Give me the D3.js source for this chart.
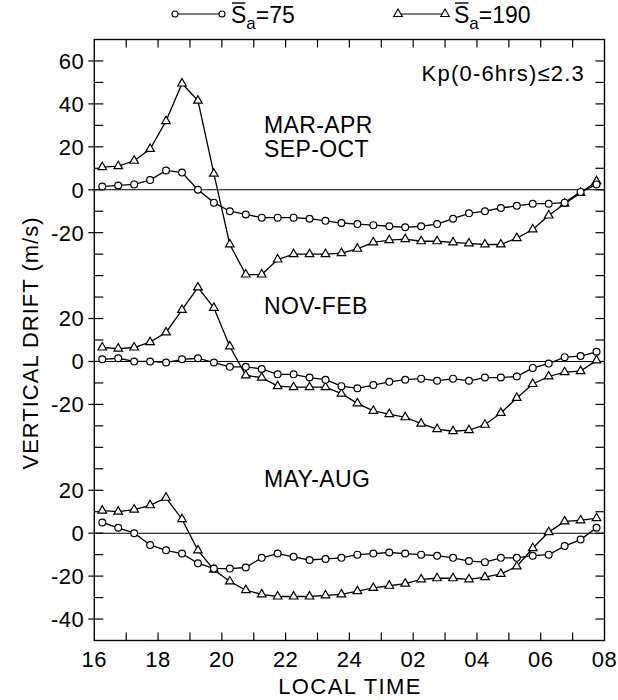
<!DOCTYPE html>
<html>
<head>
<meta charset="utf-8">
<script src="https://cdn.jsdelivr.net/npm/d3@7"></script>
<style>
  body { margin: 0; background: #fff; }
  svg { display: block; }
  text { font-family: "Liberation Sans", Arial, Helvetica, sans-serif; fill: #000; }
</style>
</head>
<body>
<div id="chart"></div>
<script>
// local time of each point (hours, 24 = midnight, 32 = 08 next morning)
var hours = [16.25, 16.75, 17.25, 17.75, 18.25, 18.75, 19.25, 19.75,
             20.25, 20.75, 21.25, 21.75, 22.25, 22.75, 23.25, 23.75,
             24.25, 24.75, 25.25, 25.75, 26.25, 26.75, 27.25, 27.75,
             28.25, 28.75, 29.25, 29.75, 30.25, 30.75, 31.25, 31.75];

// vertical drift, m/s
var marAprLow  = [1.5, 2, 2.5, 4.5, 9, 8, 0, -6, -10, -11.5, -13, -13, -13, -13.5, -14.5, -15.5,
                  -16, -16.5, -17, -17.5, -17, -16, -13.5, -11, -10, -8.5, -7.5, -6.5, -6.5, -6, -1, 2.5];
var marAprHigh = [10.5, 11, 13.5, 19, 32, 49.5, 41.5, 7.5, -25.5, -39.5, -39.5, -32.5, -30, -30, -30, -29.5,
                  -27.5, -24.5, -23.5, -23, -24, -24, -24.5, -25, -25.5, -25.5, -22.5, -18.5, -12, -6.5, -1.5, 4];
var novFebLow  = [1, 1.5, 0, 0, -0.5, 1, 1.5, -0.5, -2.5, -2.5, -3.5, -6, -6, -7.5, -8.5, -11.5,
                  -12.5, -11, -9.5, -8.5, -8, -9, -8, -9, -7.5, -7.5, -7, -3, -1, 2, 2.5, 4.5];
var novFebHigh = [6.5, 6, 6.5, 9, 13.5, 24, 34.5, 25, 7, -6.5, -7.5, -11.5, -12, -12, -12, -15,
                  -19.5, -23, -24.5, -26, -29, -31.5, -32.5, -32, -29.5, -24, -17, -10.5, -7, -5, -4.5, 0.5];
var mayAugLow  = [5, 2.5, 0, -5.5, -8, -9.5, -14, -16.5, -16.5, -16, -11.5, -9.5, -11, -12.5, -12, -11.5,
                  -10, -9.5, -9, -9.5, -10, -10.5, -11.5, -13, -13.5, -11.5, -11.5, -10.5, -10, -6, -3, 2.5];
var mayAugHigh = [10.5, 10, 11, 13, 16.5, 6.5, -8, -17, -22.5, -26.5, -28.5, -29.5, -29.5, -29.5, -29, -28.5,
                  -27, -25.5, -24.5, -23.5, -21.5, -21, -21, -21.5, -20.5, -19, -15.5, -7, 0.5, 5.5, 6, 7];

var seasons = ["MAR-APR\nSEP-OCT", "NOV-FEB", "MAY-AUG"];
var xTickLabels = ["16", "18", "20", "22", "24", "02", "04", "06", "08"];
var panelTicks = [[60, 40, 20, 0, -20], [20, 0, -20], [20, 0, -20, -40]];
var legendLabels = ["75", "190"];
var kpNote = "Kp(0-6hrs)\u22642.3";

var W = 618, H = 700;
var pLeft = 94.3, pRight = 604.5, pTop = 39.5, pBottom = 640.5;

// one shared y scale, panels are stacked by shifting their zero
var shift = [0, -80, -160];
var x = d3.scaleLinear().domain([16, 32]).range([pLeft, pRight]);
var y = d3.scaleLinear().domain([-210, 70]).range([pBottom, pTop]);

var svg = d3.select("#chart").append("svg")
    .attr("width", W)
    .attr("height", H);

/* frame */
svg.append("rect")
  .attr("x", pLeft).attr("y", pTop)
  .attr("width", pRight - pLeft).attr("height", pBottom - pTop)
  .style("fill", "none").style("stroke", "#000").style("stroke-width", 1.4);

/* hour ticks top and bottom */
var hourTicks = d3.range(17, 32);
svg.selectAll(".tbtick").data(hourTicks).enter().append("line")
  .attr("x1", x).attr("x2", x)
  .attr("y1", pTop).attr("y2", pTop + 8)
  .style("stroke", "#000").style("stroke-width", 1.2);
svg.selectAll(".bbtick").data(hourTicks).enter().append("line")
  .attr("x1", x).attr("x2", x)
  .attr("y1", pBottom).attr("y2", pBottom - 8)
  .style("stroke", "#000").style("stroke-width", 1.2);

svg.selectAll(".xlabel").data(xTickLabels).enter().append("text")
  .attr("x", function(d, i) { return x(16 + 2 * i); })
  .attr("y", 667)
  .attr("text-anchor", "middle")
  .style("font-size", "22px")
  .style("letter-spacing", "0.5px")
  .text(function(d) { return d; });

/* y ticks every 10 on both sides */
var yTicks = d3.range(-200, 70, 10);
svg.selectAll(".ltick").data(yTicks).enter().append("line")
  .attr("x1", pLeft).attr("x2", pLeft + 9)
  .attr("y1", y).attr("y2", y)
  .style("stroke", "#000").style("stroke-width", 1.2);
svg.selectAll(".rtick").data(yTicks).enter().append("line")
  .attr("x1", pRight).attr("x2", pRight - 9)
  .attr("y1", y).attr("y2", y)
  .style("stroke", "#000").style("stroke-width", 1.2);

panelTicks.forEach(function(ticks, p) {
  ticks.forEach(function(t) {
    var yy = y(t + shift[p]);
    svg.append("line")
      .attr("x1", pLeft - 6).attr("x2", pLeft)
      .attr("y1", yy).attr("y2", yy)
      .style("stroke", "#000").style("stroke-width", 1.2);
    svg.append("text")
      .attr("x", pLeft - 10).attr("y", yy)
      .attr("dy", "0.36em")
      .attr("text-anchor", "end")
      .style("font-size", "22px")
      .style("letter-spacing", "0.5px")
      .text(t);
  });
  // zero line
  svg.append("line")
    .attr("x1", pLeft).attr("x2", pRight)
    .attr("y1", y(shift[p])).attr("y2", y(shift[p]))
    .style("stroke", "#000").style("stroke-width", 1.1);
});

/* series */
var panels = [
  { low: marAprLow, high: marAprHigh },
  { low: novFebLow, high: novFebHigh },
  { low: mayAugLow, high: mayAugHigh }
];

var tri = d3.symbol().type(d3.symbolTriangle).size(32);

function drawSeries(values, off, kind) {
  var pts = values.map(function(v, i) { return { t: hours[i], v: v + off }; });
  var line = d3.line()
    .x(function(d) { return x(d.t); })
    .y(function(d) { return y(d.v); });
  svg.append("path")
    .datum(pts)
    .attr("d", line)
    .style("fill", "none").style("stroke", "#000").style("stroke-width", 1.3);
  if (kind == "circle") {
    svg.selectAll(null).data(pts).enter().append("circle")
      .attr("cx", function(d) { return x(d.t); })
      .attr("cy", function(d) { return y(d.v); })
      .attr("r", 3.4)
      .style("fill", "#fff").style("stroke", "#000").style("stroke-width", 1.2);
  } else {
    svg.selectAll(null).data(pts).enter().append("path")
      .attr("d", tri)
      .attr("transform", function(d) { return "translate(" + x(d.t) + "," + y(d.v) + ")"; })
      .style("fill", "#fff").style("stroke", "#000").style("stroke-width", 1.2);
  }
}

panels.forEach(function(p, i) {
  drawSeries(p.high, shift[i], "triangle");
  drawSeries(p.low, shift[i], "circle");
});

/* season labels */
var seasonY = [133, 314, 487];
seasons.forEach(function(s, i) {
  s.split("\n").forEach(function(line, j) {
    svg.append("text")
      .attr("x", 264).attr("y", seasonY[i] + j * 24)
      .style("font-size", "23px")
      .style("letter-spacing", "0.4px")
      .text(line);
  });
});

svg.append("text")
  .attr("x", 585).attr("y", 81)
  .attr("text-anchor", "end")
  .style("font-size", "22px")
  .style("letter-spacing", "1.2px")
  .text(kpNote);

/* axis titles */
svg.append("text")
  .attr("x", 350).attr("y", 694)
  .attr("text-anchor", "middle")
  .style("font-size", "22px")
  .style("letter-spacing", "1.4px")
  .text("LOCAL TIME");

svg.append("text")
  .attr("transform", "translate(38,343) rotate(-90)")
  .attr("text-anchor", "middle")
  .style("font-size", "22px")
  .style("letter-spacing", "1px")
  .text("VERTICAL DRIFT (m/s)");

/* legend */
var legendX = [175, 398];
legendLabels.forEach(function(lab, i) {
  var lx = legendX[i], ly = 14;
  svg.append("line")
    .attr("x1", lx).attr("x2", lx + 47)
    .attr("y1", ly).attr("y2", ly)
    .style("stroke", "#000").style("stroke-width", 1.2);
  [lx, lx + 47].forEach(function(px) {
    if (i == 0) {
      svg.append("circle").attr("cx", px).attr("cy", ly).attr("r", 3)
        .style("fill", "#fff").style("stroke", "#000").style("stroke-width", 1.1);
    } else {
      svg.append("path").attr("d", tri).attr("transform", "translate(" + px + "," + ly + ")")
        .style("fill", "#fff").style("stroke", "#000").style("stroke-width", 1.1);
    }
  });
  var sx = lx + 56;
  var s = svg.append("text")
    .attr("x", sx).attr("y", 23)
    .style("font-size", "23px")
    .text("S");
  var sw = s.node().getComputedTextLength();
  svg.append("line")
    .attr("x1", sx + 1).attr("x2", sx + sw - 1)
    .attr("y1", 3).attr("y2", 3)
    .style("stroke", "#000").style("stroke-width", 1.4);
  var t = svg.append("text")
    .attr("x", sx + sw).attr("y", 29)
    .style("font-size", "17px")
    .text("a");
  var aw = t.node().getComputedTextLength();
  svg.append("text")
    .attr("x", sx + sw + aw).attr("y", 23)
    .style("font-size", "23px")
    .text("=" + lab);
});
</script>
</body>
</html>
